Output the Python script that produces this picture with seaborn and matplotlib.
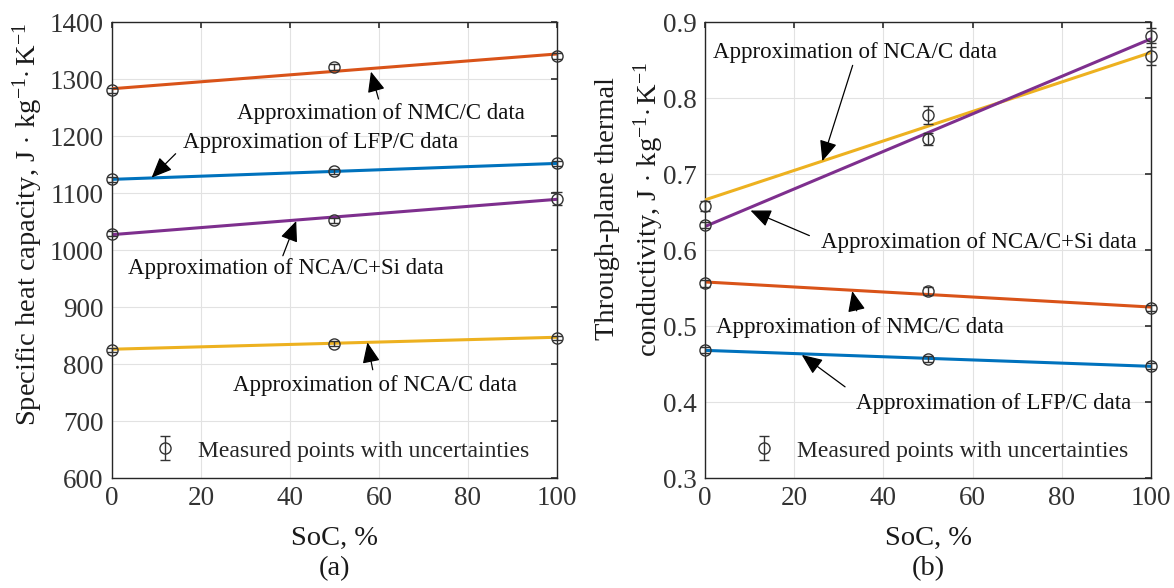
import numpy as np
import pandas as pd
import matplotlib
matplotlib.use("Agg")
import matplotlib.pyplot as plt
import seaborn as sns

# -----------------------------
# Data
# -----------------------------
soc = [0, 50, 100]
fit_x = [0, 100]
series = ["LFP/C", "NMC/C", "NCA/C", "NCA/C+Si"]

# (a) specific heat capacity, J/(kg K)
cp_points = {
    "LFP/C": [1124, 1138, 1152],
    "NMC/C": [1280, 1321, 1341],
    "NCA/C": [825, 836, 846],
    "NCA/C+Si": [1029, 1052, 1090],
}
cp_err = {
    "LFP/C": [4, 4, 4],
    "NMC/C": [5, 6, 5],
    "NCA/C": [4, 4, 4],
    "NCA/C+Si": [4, 5, 11],
}
cp_fit = {
    "LFP/C": [1124, 1152],
    "NMC/C": [1283, 1344],
    "NCA/C": [826, 847],
    "NCA/C+Si": [1027, 1089],
}

# (b) through-plane thermal conductivity
k_points = {
    "LFP/C": [0.468, 0.457, 0.447],
    "NMC/C": [0.556, 0.546, 0.524],
    "NCA/C": [0.658, 0.778, 0.855],
    "NCA/C+Si": [0.633, 0.746, 0.882],
}
k_err = {
    "LFP/C": [0.004, 0.004, 0.004],
    "NMC/C": [0.004, 0.005, 0.004],
    "NCA/C": [0.006, 0.012, 0.012],
    "NCA/C+Si": [0.004, 0.008, 0.010],
}
k_fit = {
    "LFP/C": [0.468, 0.447],
    "NMC/C": [0.558, 0.525],
    "NCA/C": [0.666, 0.860],
    "NCA/C+Si": [0.631, 0.878],
}

palette = {
    "LFP/C": "#0072BD",
    "NMC/C": "#D95319",
    "NCA/C": "#EDB120",
    "NCA/C+Si": "#7E2F8E",
}

# annotation text: (label, text center, arrow tail, arrow head)
notes_a = [
    ("NMC/C", (60.5, 1239), (59.9, 1265), (58.2, 1313)),
    ("LFP/C", (46.8, 1189), (14.3, 1169), (8.9, 1127)),
    ("NCA/C+Si", (39.0, 967), (38.4, 990), (41.4, 1051)),
    ("NCA/C", (59.2, 762), (58.6, 790), (57.4, 838)),
]
notes_b = [
    ("NCA/C", (33.7, 0.860), (33.1, 0.843), (26.3, 0.717)),
    ("NCA/C+Si", (61.4, 0.610), (23.4, 0.619), (10.2, 0.652)),
    ("NMC/C", (34.8, 0.498), (34.0, 0.520), (33.0, 0.546)),
    ("LFP/C", (64.6, 0.398), (31.4, 0.420), (21.7, 0.462)),
]


def to_long(d, xs):
    rows = []
    for name in series:
        for x, y in zip(xs, d[name]):
            rows.append({"SoC": x, "value": y, "cell": name})
    return pd.DataFrame(rows)


# -----------------------------
# Style
# -----------------------------
sns.set_theme(style="whitegrid")
plt.rcParams["font.family"] = ["Liberation Serif", "DejaVu Serif"]
plt.rcParams["mathtext.fontset"] = "custom"
plt.rcParams["mathtext.rm"] = "Liberation Serif"
plt.rcParams["mathtext.it"] = "Liberation Serif:italic"

fig = plt.figure(figsize=(11.74, 5.88), dpi=100)
ax_a = fig.add_axes([0.0954, 0.187, 0.379, 0.7755])
ax_b = fig.add_axes([0.6005, 0.187, 0.380, 0.7755])

unit = r"J$\,\cdot\,$kg$^{-1}$$\cdot\,$K$^{-1}$"


def draw(ax, fit, pts, err, notes, ylim, yticks, ylabel, tag, legend_pos,
         ylab_xy):
    sns.lineplot(data=to_long(fit, fit_x), x="SoC", y="value", hue="cell",
                 palette=palette, lw=2.2, legend=False, ax=ax, zorder=3)
    handle = None
    for name in series:
        h = ax.errorbar(soc, pts[name], yerr=err[name], fmt="o", ms=8,
                        mfc="none", mec="#333333", ecolor="#333333",
                        mew=1.0, elinewidth=1.0, capsize=3.5, zorder=4,
                        clip_on=False)
        handle = h
    for name, txt, tail, head in notes:
        ax.text(txt[0], txt[1], "Approximation of " + name + " data",
                ha="center", va="center", fontsize=16.5, color="#111111",
                zorder=5)
        ax.annotate("", xy=head, xytext=tail,
                    arrowprops=dict(arrowstyle="-|>,head_length=0.7,head_width=0.3",
                                    color="black", lw=0.9,
                                    mutation_scale=18, shrinkA=0, shrinkB=0),
                    zorder=5)
    ax.legend([handle], ["Measured points with uncertainties"],
              loc="lower left", bbox_to_anchor=legend_pos, frameon=False,
              fontsize=17, handlelength=1.2, handletextpad=0.8,
              borderpad=0.2)
    ax.set_xlim(0, 100)
    ax.set_ylim(*ylim)
    ax.set_xticks([0, 20, 40, 60, 80, 100])
    ax.set_yticks(yticks)
    ax.grid(True, color="#e2e2e2", lw=0.8)
    ax.tick_params(direction="in", length=4, top=True, right=True,
                   labelsize=19.5, colors="#333333", pad=6)
    for s in ax.spines.values():
        s.set_color("#262626")
        s.set_linewidth(1.0)
    ax.set_xlabel("SoC, %\n(" + tag + ")", fontsize=20.5, color="#1a1a1a",
                  linespacing=1.25)
    ax.xaxis.set_label_coords(0.5, -0.105)
    ax.set_ylabel(ylabel, fontsize=20.5, color="#1a1a1a", linespacing=1.45)
    ax.yaxis.set_label_coords(*ylab_xy)


draw(ax_a, cp_fit, cp_points, cp_err, notes_a, (600, 1400),
     np.arange(600, 1401, 100), "Specific heat capacity, " + unit, "a",
     (0.05, 0.0), (-0.150, 0.557))
draw(ax_b, k_fit, k_points, k_err, notes_b, (0.3, 0.9),
     [0.3, 0.4, 0.5, 0.6, 0.7, 0.8, 0.9],
     "Through-plane thermal\nconductivity, " + unit, "b", (0.063, 0.0),
     (-0.088, 0.59))

fig.savefig("out.png", dpi=100)
